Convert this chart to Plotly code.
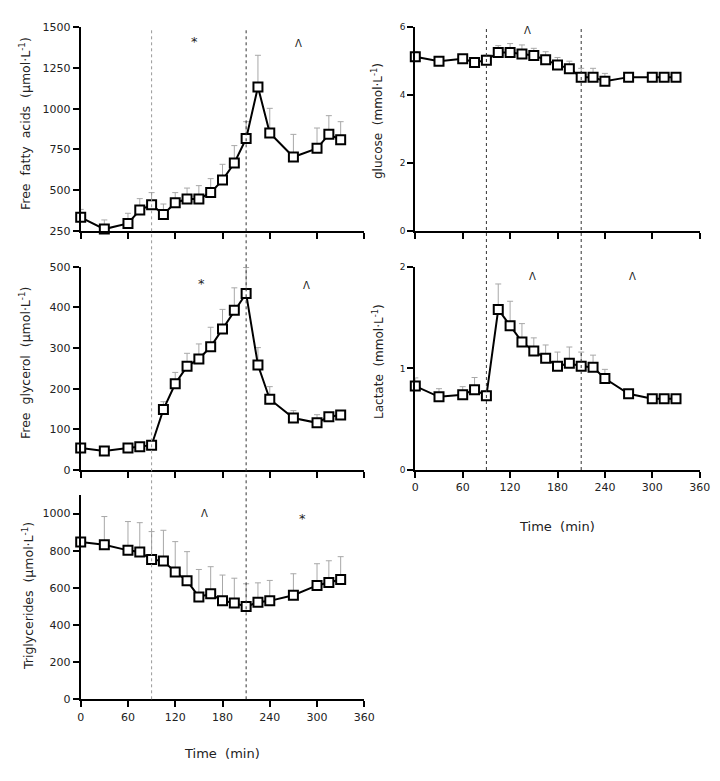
import plotly.graph_objects as go

# ---------------- data ----------------
time = [0, 30, 60, 75, 90, 105, 120, 135, 150, 165, 180, 195, 210, 225, 240, 270, 300, 315, 330]

ffa = [332, 260, 295, 377, 410, 350, 422, 445, 445, 484, 561, 666, 816, 1133, 850, 703, 756, 842, 809]
ffa_sd = [49, 56, 62, 70, 74, 64, 62, 67, 82, 86, 97, 107, 104, 195, 152, 139, 125, 115, 111]

glucose = [5.13, 5.00, 5.07, 4.96, 5.03, 5.26, 5.26, 5.21, 5.17, 5.04, 4.89, 4.78, 4.53, 4.53, 4.41, 4.53, 4.53, 4.53, 4.53]
glucose_sd = [0.15, 0.12, 0.12, 0.12, 0.15, 0.20, 0.26, 0.27, 0.21, 0.24, 0.22, 0.22, 0.26, 0.26, 0.23, 0.12, 0.12, 0.12, 0.12]

glycerol = [54, 47, 54, 57, 61, 149, 212, 255, 273, 303, 347, 393, 434, 258, 174, 128, 116, 131, 135]
glycerol_sd = [8, 5, 6, 5, 9, 19, 28, 32, 37, 48, 48, 55, 64, 43, 31, 18, 20, 9, 8]

lactate = [0.826, 0.72, 0.74, 0.79, 0.73, 1.58, 1.42, 1.26, 1.17, 1.10, 1.02, 1.05, 1.02, 1.01, 0.90, 0.75, 0.70, 0.70, 0.70]
lactate_sd = [0.08, 0.08, 0.08, 0.12, 0.05, 0.25, 0.24, 0.18, 0.13, 0.13, 0.14, 0.16, 0.14, 0.12, 0.09, 0.03, 0.03, 0.03, 0.03]

tg = [847, 832, 802, 793, 753, 744, 685, 638, 551, 568, 530, 519, 499, 523, 530, 560, 613, 629, 645]
tg_sd = [20, 152, 155, 158, 150, 166, 164, 157, 148, 146, 139, 133, 123, 104, 110, 116, 117, 117, 123]

x_ticks = [0, 60, 120, 180, 240, 300, 360]
ffa_ticks = [250, 500, 750, 1000, 1250, 1500]
glucose_ticks = [0, 2, 4, 6]
glycerol_ticks = [0, 100, 200, 300, 400, 500]
lactate_ticks = [0, 1, 2]
tg_ticks = [0, 200, 400, 600, 800, 1000]

phase_bounds = [90, 210]

# ---------------- figure ----------------
W, H = 720, 781
FONT = "DejaVu Sans"
OFF = 8  # page body margin


def fx(p):
    return (p - OFF) / W


def fy(p):
    return 1 - (p - OFF) / H


fig = go.Figure()


def add(xa, ya, y, sd):
    fig.add_trace(go.Scatter(
        x=time, y=y, xaxis=xa, yaxis=ya, mode="lines+markers",
        line=dict(color="black", width=2),
        marker=dict(symbol="square", size=9, color="white", line=dict(color="black", width=2)),
        error_y=dict(type="data", symmetric=False, array=sd, arrayminus=[0] * len(sd),
                     color="#a8a8a8", thickness=1, width=3),
        showlegend=False, cliponaxis=False, hoverinfo="x+y"))


add("x", "y", ffa, ffa_sd)
add("x2", "y2", glucose, glucose_sd)
add("x3", "y3", glycerol, glycerol_sd)
add("x4", "y4", lactate, lactate_sd)
add("x5", "y5", tg, tg_sd)

xL = [fx(80.7), fx(364.3)]
xR = [fx(415.3), fx(699.7)]
yTop = [fy(230.7), fy(27.3)]
yMid = [fy(470), fy(266.7)]
yBot = [fy(699.3), fy(495)]

base = dict(showline=True, linecolor="black", linewidth=2, ticks="outside", ticklen=6,
            tickwidth=1.5, tickcolor="black", showgrid=False, zeroline=False,
            automargin=False,
            tickfont=dict(family=FONT, size=11, color="#222"))


def xax(domain, anchor, labels):
    d = dict(base)
    d.update(domain=domain, anchor=anchor, range=[0, 360], tickvals=x_ticks,
             showticklabels=labels)
    return d


def yax(domain, anchor, rng, ticks, size=11):
    d = dict(base)
    d.update(domain=domain, anchor=anchor, range=rng, tickvals=ticks,
             tickfont=dict(family=FONT, size=size, color="#222"))
    return d


fig.update_layout(
    width=W, height=H, margin=dict(l=0, r=0, t=0, b=0, pad=0, autoexpand=False),
    paper_bgcolor="white", plot_bgcolor="white",
    font=dict(family=FONT, color="#222"),
    xaxis=xax(xL, "y", False),
    yaxis=yax(yTop, "x", [250, 1500], ffa_ticks),
    xaxis2=xax(xR, "y2", False),
    yaxis2=yax(yTop, "x2", [0, 6], glucose_ticks, 9),
    xaxis3=xax(xL, "y3", False),
    yaxis3=yax(yMid, "x3", [0, 500], glycerol_ticks),
    xaxis4=xax(xR, "y4", True),
    yaxis4=yax(yMid, "x4", [0, 2], lactate_ticks, 9),
    xaxis5=xax(xL, "y5", True),
    yaxis5=yax(yBot, "x5", [0, 1100], tg_ticks),
)

# vertical phase lines
shapes = []
for i, t in enumerate(phase_bounds):
    shapes.append(dict(type="line", xref="x5", yref="paper", x0=t, x1=t,
                       y0=fy(699.3), y1=fy(27.3),
                       line=dict(color="#999999" if i == 0 else "#333333", width=1, dash="dot")))
    shapes.append(dict(type="line", xref="x4", yref="paper", x0=t, x1=t,
                       y0=fy(470), y1=fy(27.3),
                       line=dict(color="#333333", width=1, dash="dot")))
fig.update_layout(shapes=shapes)

ann = []


def title(text, xp, yp, angle=-90, size=12):
    ann.append(dict(text=text, x=fx(xp), y=fy(yp), xref="paper", yref="paper",
                    showarrow=False, textangle=angle, xanchor="center", yanchor="middle",
                    font=dict(family=FONT, size=size, color="#222")))


title("Free  fatty  acids  (µmol·L<sup>-1</sup>)", 25, 124, size=12.5)
title("Free  glycerol  (µmol·L<sup>-1</sup>)", 25, 363, size=12.5)
title("Triglycerides  (µmol·L<sup>-1</sup>)", 28, 596, size=12.5)
title("glucose  (mmol·L<sup>-1</sup>)", 377, 121, size=12)
title("Lactate  (mmol·L<sup>-1</sup>)", 378, 361, size=12)
title("Time  (min)", 222, 753, angle=0, size=13)
title("Time  (min)", 557, 526, angle=0, size=13)


def mark(sym, xp, yp):
    if sym == "*":
        txt, size, shift = "*", 13, 3
    else:
        txt, size, shift = "Λ", 10, 0
    ann.append(dict(text=txt, x=fx(xp), y=fy(yp + shift), xref="paper", yref="paper",
                    showarrow=False, xanchor="center", yanchor="middle",
                    font=dict(family=FONT, size=size, color="#222")))


mark("*", 194, 39)
mark("^", 298, 43)
mark("^", 527.7, 31)
mark("*", 201.7, 280)
mark("^", 306, 285)
mark("^", 532.3, 276.7)
mark("^", 632.7, 276.7)
mark("^", 204.3, 513.3)
mark("*", 302.3, 515)

fig.update_layout(annotations=ann)

fig.write_html("out.html")
